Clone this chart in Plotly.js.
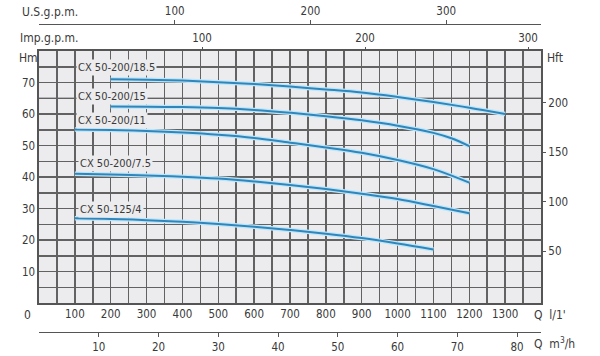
<!DOCTYPE html>
<html><head><meta charset="utf-8">
<script src="https://cdn.plot.ly/plotly-3.0.1.min.js"></script>
<style>html,body{margin:0;padding:0;background:#fff}#c{width:600px;height:356px}</style>
</head><body><div id="c"></div>
<script>
// Flow in l/min and head in m for each pump model
const names = ['CX 50-200/18.5','CX 50-200/15','CX 50-200/11','CX 50-200/7.5','CX 50-125/4'];
const q185 = [200,300,400,500,600,700,800,900,1000,1100,1200,1300];
const h185 = [71.0,70.9,70.6,70.1,69.5,68.7,67.8,66.8,65.4,63.8,62.0,60.0];
const q15 = [200,300,400,500,600,700,800,900,1000,1100,1150,1200];
const h15 = [62.4,62.3,62.2,61.9,61.3,60.4,59.3,58.0,56.3,54.0,52.3,49.8];
const q11 = [100,200,300,400,500,600,700,800,900,1000,1100,1200];
const h11 = [55.1,54.9,54.6,54.1,53.4,52.4,50.9,49.4,47.7,45.4,42.5,38.2];
const q75 = [100,200,300,400,500,600,700,800,900,1000,1100,1200];
const h75 = [41.0,40.8,40.5,40.1,39.5,38.6,37.5,36.2,34.7,33.0,30.8,28.5];
const q4 = [100,200,300,400,500,600,700,800,900,1000,1100];
const h4 = [26.9,26.7,26.3,25.8,25.1,24.2,23.2,22.0,20.6,18.9,17.0];
// label anchor (l/min, m)
const labelQ = [103,103,103,109,109];
const labelH = [74.9,65.7,57.8,44.3,29.8];

const qTicks = [100,200,300,400,500,600,700,800,900,1000,1100,1200,1300];
const hTicks = [10,20,30,40,50,60,70];
const ftTicks = [50,100,150,200];
const usTicks = [100,200,300];
const impTicks = [100,200,300];
const m3Ticks = [10,20,30,40,50,60,70,80];
const darkRows = [15,40,65];

const Qmax = 1400, Hmax = 80;
const F = 'Liberation Sans Narrow, DejaVu Sans Condensed, Arial Narrow, sans-serif';
const TC = '#3a3a3a';
const W = 600, Hh = 356, L = 39.2, R = 541.5, T = 51, B = 303;
const px = x => (x - L) / (R - L);
const py = y => (Hh - y) / Hh;

const grid50 = []; for (let v = 0; v <= Qmax; v += 50) grid50.push(v);
const grid5 = []; for (let v = 0; v <= Hmax; v += 5) grid5.push(v);

const qs = [q185,q15,q11,q75,q4], hs = [h185,h15,h11,h75,h4];
const data = [];
qs.forEach((q,i)=>data.push({x:q,y:hs[i],type:'scatter',mode:'lines',
  line:{color:'#bfe6f7',width:4.5,shape:'spline'},showlegend:false,hoverinfo:'skip'}));
qs.forEach((q,i)=>data.push({x:q,y:hs[i],type:'scatter',mode:'lines',name:names[i],
  line:{color:'#2f86bd',width:2,shape:'spline'},showlegend:false,hoverinfo:'skip'}));
data.push({x:[],y:[],xaxis:'x2',yaxis:'y',showlegend:false});
data.push({x:[],y:[],xaxis:'x3',yaxis:'y',showlegend:false});
data.push({x:[],y:[],xaxis:'x4',yaxis:'y',showlegend:false});
data.push({x:[],y:[],xaxis:'x',yaxis:'y2',showlegend:false});

const tf = {family:F,size:11.5,color:TC};
const layout = {
  width:W,height:Hh,margin:{l:L,r:W-R,t:0,b:0},
  paper_bgcolor:'#fff',plot_bgcolor:'#ececee',showlegend:false,
  font:{family:F,color:TC},
  xaxis:{range:[0,Qmax],domain:[0,1],tickmode:'array',tickvals:grid50,
    ticktext:grid50.map(v=>qTicks.includes(v)?String(v):''),
    showgrid:true,gridcolor:'#626262',gridwidth:1.5,zeroline:false,ticks:'',
    showline:true,mirror:true,linecolor:'#555',linewidth:1.6,tickfont:tf,fixedrange:true},
  yaxis:{range:[0,Hmax],domain:[py(B),py(T)],tickmode:'array',tickvals:grid5,
    ticktext:grid5.map(v=>hTicks.includes(v)?String(v):''),
    showgrid:true,gridcolor:'#626262',gridwidth:1.5,zeroline:false,ticks:'',
    showline:true,mirror:true,linecolor:'#555',linewidth:1.6,tickfont:tf},
  yaxis2:{overlaying:'y',side:'right',anchor:'x',range:[-2,252],tickmode:'array',tickvals:ftTicks,
    ticks:'outside',ticklen:4,tickcolor:'#555',showgrid:false,zeroline:false,showline:false,tickfont:tf},
  xaxis2:{overlaying:'x',side:'top',anchor:'free',position:py(24),range:[0,Qmax/3.78541],
    tickmode:'array',tickvals:usTicks,ticks:'outside',ticklen:4,tickcolor:'#555',showline:true,
    linecolor:'#555',linewidth:1.4,showgrid:false,zeroline:false,tickfont:tf},
  xaxis3:{overlaying:'x',side:'top',anchor:'y',range:[0,Qmax/4.54609],
    tickmode:'array',tickvals:impTicks,ticks:'outside',ticklen:3,tickcolor:'#555',showline:false,
    showgrid:false,zeroline:false,tickfont:tf},
  xaxis4:{overlaying:'x',side:'bottom',anchor:'free',position:py(332),range:[0,Qmax*0.06],
    tickmode:'array',tickvals:m3Ticks,ticks:'outside',ticklen:4,tickcolor:'#555',showline:true,
    linecolor:'#555',linewidth:1.4,showgrid:false,zeroline:false,tickfont:tf},
  shapes: darkRows.map(v=>({type:'line',xref:'x',yref:'y',x0:0,x1:Qmax,y0:v,y1:v,
    line:{color:'#1a1a1a',width:1},layer:'below'})),
  annotations: []
};
names.forEach((n,i)=>layout.annotations.push({x:labelQ[i],y:labelH[i],xref:'x',yref:'y',text:n,
  showarrow:false,xanchor:'left',yanchor:'middle',bgcolor:'#ececee',borderpad:1,
  font:{family:F,size:11,color:TC}}));
const side = [
  ['U.S.g.p.m.',20,12,'left'],['Imp.g.p.m.',18,38,'left'],['Hm',17,58,'left'],['Hft',546,58,'left'],
  ['0',28,315,'center'],["Q  l/1'",532,315,'left'],['Q  m<sup>3</sup>/h',532,343,'left']
];
side.forEach(s=>layout.annotations.push({text:s[0],x:px(s[1]),y:py(s[2]),xref:'paper',yref:'paper',
  showarrow:false,xanchor:s[3],yanchor:'middle',font:{family:F,size:12,color:TC}}));
Plotly.newPlot('c',data,layout,{staticPlot:true});
</script></body></html>
